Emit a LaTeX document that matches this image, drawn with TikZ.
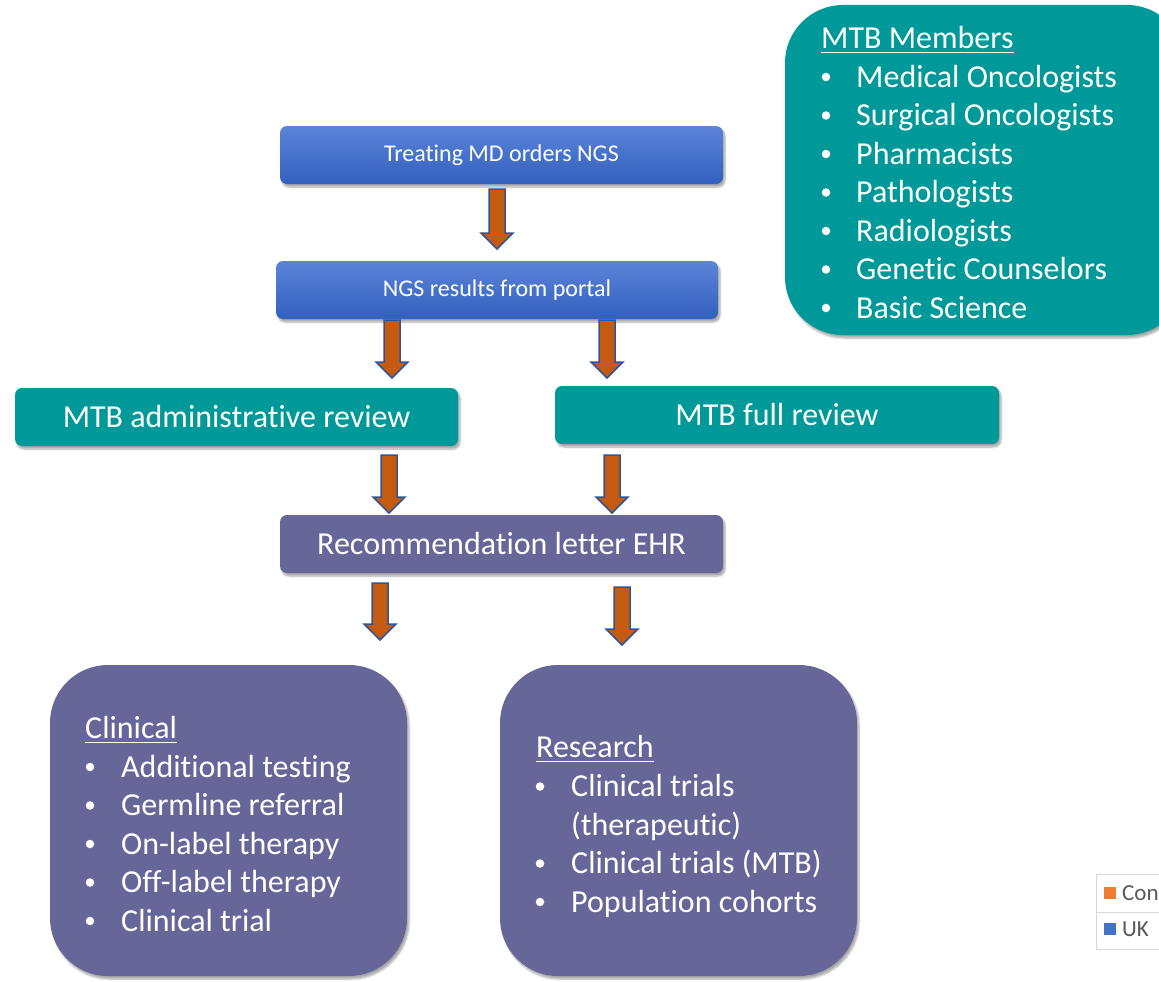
\documentclass[tikz,border=0pt]{standalone}
\usepackage{fontspec}
\setmainfont[Ligatures=NoCommon]{Carlito}
\usetikzlibrary{shadows.blur,calc}

\definecolor{mtbteal}{RGB}{0,153,153}
\definecolor{mtbpurple}{RGB}{102,102,153}
\definecolor{bluetop}{RGB}{92,132,216}
\definecolor{bluebot}{RGB}{50,96,190}
\definecolor{arroworange}{RGB}{197,90,17}
\definecolor{arrowblue}{RGB}{47,85,151}
\definecolor{legendgray}{RGB}{89,89,89}
\definecolor{legendorange}{RGB}{237,125,49}
\definecolor{legendblue}{RGB}{68,114,196}

\tikzset{
  softshadow/.style={blur shadow={shadow xshift=2pt, shadow yshift=-3pt, shadow blur steps=6, shadow opacity=35}},
  flowbox/.style={rounded corners=7, minimum height=58, inner sep=0, text=white, softshadow},
  bluebox/.style={flowbox, top color=bluetop, bottom color=bluebot, font=\fontsize{24}{28}\selectfont},
  tealbox/.style={flowbox, fill=mtbteal, font=\fontsize{32}{38}\selectfont},
  purplebox/.style={flowbox, fill=mtbpurple, font=\fontsize{32}{38}\selectfont},
  bigbox/.style={rounded corners=58, inner sep=0, softshadow},
  listtext/.style={anchor=base west, inner sep=0, text=white, font=\fontsize{32}{38}\selectfont},
  bulletdot/.style={circle, fill=white, inner sep=0, minimum size=8.5},
  blockarrow/.style={fill=arroworange, draw=arrowblue, line width=1.5pt, line join=miter},
  legendtext/.style={anchor=base west, inner sep=0, text=legendgray, font=\fontsize{23}{27}\selectfont}
}

% block arrow: x centre, top of shaft, tip
\newcommand{\flowarrow}[3]{%
  \draw[blockarrow] (#1-8,#2) -- (#1+8,#2) -- (#1+8,#3-16) -- (#1+16,#3-16)
    -- (#1,#3) -- (#1-16,#3-16) -- (#1-8,#3-16) -- cycle;}

% underlined heading inside a box
\newcommand{\boxheading}[3]{%
  \node[listtext] (#1) at (#2) {#3};
  \draw[white, line width=1.6pt] ($(#1.base west)+(0,4)$) -- ($(#1.base east)+(0,4)$);}

\begin{document}
\begin{tikzpicture}[x=1pt, y=-1pt]
	\useasboundingbox (0,0) rectangle (1159,982);
	\clip (0,0) rectangle (1159,982);

	% flow boxes
	\node[bluebox, minimum width=443] (order) at (501.5,155) {Treating MD orders NGS};
	\node[bluebox, minimum width=442] (results) at (497,290) {NGS results from portal};
	\node[tealbox, minimum width=443] (admin) at (236.5,417) {MTB administrative review};
	\node[tealbox, minimum width=444] (full) at (777,415) {MTB full review};
	\node[purplebox, minimum width=443] (letter) at (501.5,544) {Recommendation letter EHR};

	% arrows
	\flowarrow{497}{189}{249}
	\flowarrow{392}{320}{378}
	\flowarrow{607}{320}{378}
	\flowarrow{389}{455}{513}
	\flowarrow{612}{455}{513}
	\flowarrow{380}{583}{640}
	\flowarrow{622}{587}{645}

	% members box
	\node[bigbox, fill=mtbteal, minimum width=400, minimum height=330] (members) at (985,170) {};
	\boxheading{memhead}{821,48.5}{MTB Members}
	\foreach \item [count=\i] in {Medical Oncologists, Surgical Oncologists, Pharmacists,
	    Pathologists, Radiologists, Genetic Counselors, Basic Science} {
		\node[bulletdot] (membul\i) at (826,38.5+38.5*\i) {};
		\node[listtext] (mem\i) at (856,48.5+38.5*\i) {\item};
	}

	% clinical box
	\node[bigbox, fill=mtbpurple, minimum width=357, minimum height=311] (clinical) at (228.5,820.5) {};
	\boxheading{clinhead}{85,738.5}{Clinical}
	\foreach \item [count=\i] in {Additional testing, Germline referral, On-label therapy,
	    Off-label therapy, Clinical trial} {
		\node[bulletdot] (clinbul\i) at (90,728.5+38.5*\i) {};
		\node[listtext] (clin\i) at (121,738.5+38.5*\i) {\item};
	}

	% research box
	\node[bigbox, fill=mtbpurple, minimum width=357, minimum height=311] (research) at (678.5,820.5) {};
	\boxheading{reshead}{536,757.5}{Research}
	\node[bulletdot] (resbul1) at (540,786.5) {};
	\node[listtext] (res1) at (571,796.5) {Clinical trials};
	\node[listtext] (res1b) at (571,835) {(therapeutic)};
	\node[bulletdot] (resbul2) at (540,863.5) {};
	\node[listtext] (res2) at (571,873.5) {Clinical trials (MTB)};
	\node[bulletdot] (resbul3) at (540,902) {};
	\node[listtext] (res3) at (571,912) {Population cohorts};

	% legend fragment
	\draw[gray!30, fill=white, line width=1pt] (1096,874) rectangle (1175,949);
	\draw[gray!30, line width=1pt] (1096,912) -- (1175,912);
	\fill[legendorange] (1104,887) rectangle (1116,899);
	\node[legendtext] (legcon) at (1122,900.5) {Con};
	\fill[legendblue] (1104,923) rectangle (1116,935);
	\node[legendtext] (leguk) at (1122,936.5) {UK};
\end{tikzpicture}
\end{document}
